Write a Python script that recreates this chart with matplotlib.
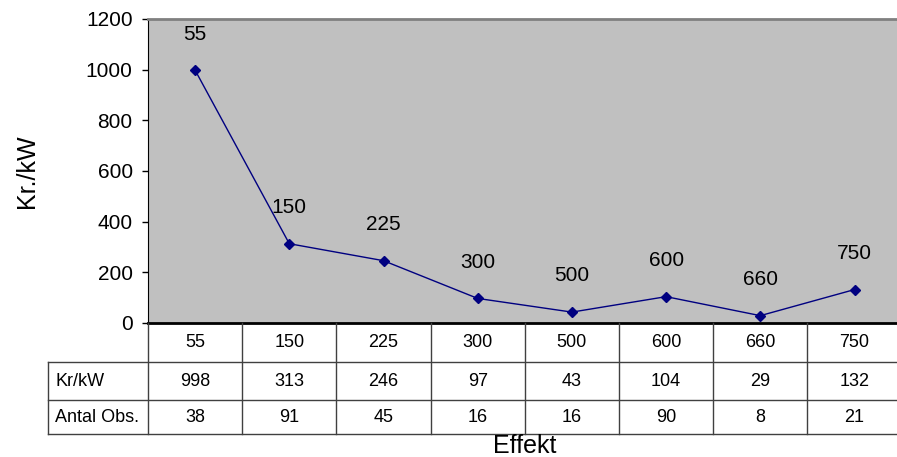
import numpy as np
import matplotlib.pyplot as plt
from matplotlib.lines import Line2D

plt.rcParams['font.family'] = ['Liberation Sans', 'DejaVu Sans']

effekt = ['55', '150', '225', '300', '500', '600', '660', '750']
kr_kw = [998, 313, 246, 97, 43, 104, 29, 132]
antal_obs = [38, 91, 45, 16, 16, 90, 8, 21]
row_labels = ['Kr/kW', 'Antal Obs.']

W, H = 897, 457
fig = plt.figure(figsize=(W / 100, H / 100), dpi=100)

# plot area in pixels (right edge runs a bit past the picture)
col_w = 94.2
x0, x1 = 148, 148 + 8 * col_w
y_top, y_zero = 19, 323
ax = fig.add_axes([x0 / W, (H - y_zero) / H, (x1 - x0) / W, (y_zero - y_top) / H])
ax.set_facecolor('#c0c0c0')

x = np.arange(len(effekt))
ax.plot(x, kr_kw, color='#000080', lw=1, marker='D', ms=5.5, mec='#000080', mfc='#000080')
for xi, lab, v in zip(x, effekt, kr_kw):
    ax.annotate(lab, (xi, v), xytext=(0, 26), textcoords='offset points',
                ha='center', va='center', fontsize=15)

ax.set_xlim(-0.5, len(effekt) - 0.5)
ax.set_ylim(0, 1200)
ax.set_yticks(np.arange(0, 1201, 200))
ax.set_xticks([])
ax.tick_params(axis='y', labelsize=15, length=4, width=1, pad=7)
ax.set_ylabel('Kr./kW', fontsize=18, labelpad=34)

ax.spines['top'].set_color('#808080')
ax.spines['top'].set_linewidth(2)
ax.spines['right'].set_visible(False)
ax.spines['left'].set_color('black')
ax.spines['bottom'].set_color('black')
ax.spines['bottom'].set_linewidth(2)

# data table under the axis, drawn in pixel positions
def fx(px):
    return px / W

def fy(py):
    return 1 - py / H

row_edges = [323, 362, 400, 434]
tab_left = 48
line_kw = dict(color='#404040', lw=1, transform=fig.transFigure)

for k in range(9):
    xv = x0 + k * col_w
    fig.add_artist(Line2D([fx(xv), fx(xv)], [fy(row_edges[0]), fy(row_edges[-1])], **line_kw))
fig.add_artist(Line2D([fx(tab_left), fx(tab_left)], [fy(row_edges[1]), fy(row_edges[-1])], **line_kw))
for ye in row_edges[1:]:
    fig.add_artist(Line2D([fx(tab_left), fx(x1)], [fy(ye), fy(ye)], **line_kw))

rows = [effekt, [str(v) for v in kr_kw], [str(v) for v in antal_obs]]
for r, vals in enumerate(rows):
    yc = (row_edges[r] + row_edges[r + 1]) / 2
    for c, txt in enumerate(vals):
        fig.text(fx(x0 + (c + 0.5) * col_w), fy(yc), txt, ha='center', va='center', fontsize=13)
    if r > 0:
        fig.text(fx(tab_left + 7), fy(yc), row_labels[r - 1], ha='left', va='center', fontsize=13)

fig.text(fx(x0 + (x1 - x0) / 2), fy(446), 'Effekt', ha='center', va='center', fontsize=18)

fig.savefig('out.png', dpi=100)
